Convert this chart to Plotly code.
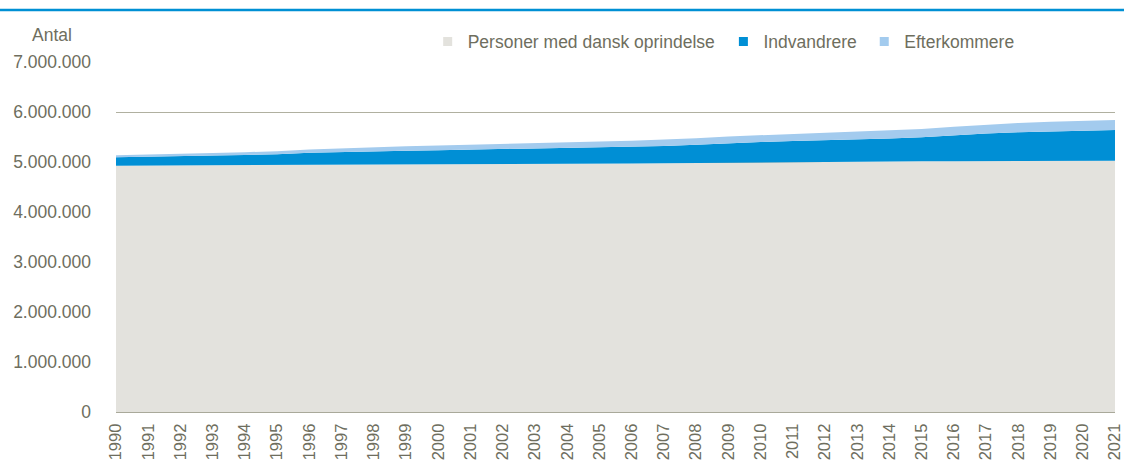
import plotly.graph_objects as go

years = list(range(1990, 2022))
dansk = [4927000, 4929000, 4931000, 4933000, 4935000, 4937000, 4939000, 4940000,
         4941000, 4943000, 4945000, 4949000, 4953000, 4957000, 4961000, 4965000,
         4969000, 4974000, 4980000, 4988000, 4996000, 5001000, 5005000, 5008000,
         5011000, 5014000, 5017000, 5020000, 5022000, 5024000, 5025000, 5026000]
indvandrere = [168000, 173000, 183000, 195000, 205000, 218000, 247000, 264000,
               276000, 284000, 291000, 297000, 307000, 314000, 320000, 326000,
               335000, 347000, 366000, 391000, 404000, 420000, 430000, 444000,
               459000, 482000, 519000, 551000, 574000, 591000, 602000, 614000]
efterkommere = [40000, 44000, 48000, 52000, 56000, 60000, 65000, 71000,
                78000, 86000, 94000, 103000, 108000, 112000, 116000, 120000,
                123000, 126000, 130000, 132000, 135000, 140000, 145000, 151000,
                157000, 164000, 171000, 178000, 185000, 191000, 196000, 200000]

names = ["Personer med dansk oprindelse", "Indvandrere", "Efterkommere"]
colors = ["#e3e2dd", "#008fd5", "#a3cbee"]
series = [dansk, indvandrere, efterkommere]

FONT = "Liberation Sans, Arial, sans-serif"
FS = 17.5
txt = "#6e6e5e"

fig = go.Figure()
for name, col, vals in zip(names, colors, series):
    fig.add_trace(go.Scatter(
        x=years, y=vals, name=name, mode="lines",
        stackgroup="one", line=dict(width=0, color=col),
        fillcolor=col, showlegend=False, hoverinfo="x+y+name"))
# legend entries with small square swatches, one legend per entry
legend_keys = ["legend", "legend2", "legend3"]
for name, col, lk in zip(names, colors, legend_keys):
    fig.add_trace(go.Scatter(
        x=[None], y=[None], name=name, mode="markers",
        marker=dict(symbol="square", size=9, color=col),
        showlegend=True, legend=lk))

leg_common = dict(orientation="h", y=1.058, xanchor="left", yanchor="middle",
                  font=dict(family=FONT, size=FS, color=txt), itemwidth=30,
                  bgcolor="rgba(0,0,0,0)")
fig.update_layout(
    width=1124, height=463,
    margin=dict(l=116, r=9, t=62, b=51, autoexpand=False),
    paper_bgcolor="white", plot_bgcolor="white",
    separators=",.",
    font=dict(family=FONT, size=FS, color=txt),
    legend=dict(x=0.312, **leg_common),
    legend2=dict(x=0.608, **leg_common),
    legend3=dict(x=0.749, **leg_common),
    xaxis=dict(range=[1990, 2021], tickmode="array", tickvals=years,
               ticktext=[str(y) for y in years], tickangle=-90,
               showgrid=False, showline=True, linecolor="#a9a99a", linewidth=1,
               ticks="", tickfont=dict(family=FONT, size=16.5, color=txt),
               zeroline=False, automargin=False, ticklabelstandoff=4,
               ticklabeloverflow="allow"),
    yaxis=dict(range=[0, 7000000], dtick=1000000, tickformat=",d",
               showgrid=True, gridcolor="#b0b0a0", gridwidth=1,
               zeroline=False, showline=False, ticks="", automargin=False,
               tickfont=dict(family=FONT, size=FS, color=txt), ticklabelstandoff=24),
    showlegend=True,
)
fig.add_annotation(text="Antal", xref="paper", yref="paper", x=-0.064, y=1.077,
                   xanchor="center", yanchor="middle", showarrow=False,
                   font=dict(family=FONT, size=FS, color=txt))
fig.add_shape(type="line", xref="paper", yref="paper", x0=-0.12, x1=1.01,
              y0=1.1486, y1=1.1486, line=dict(color="#0090d4", width=2.5))
fig.write_html("out.html", config={"displayModeBar": False},
               post_script="document.body.style.margin='0';document.body.style.overflow='hidden';")
